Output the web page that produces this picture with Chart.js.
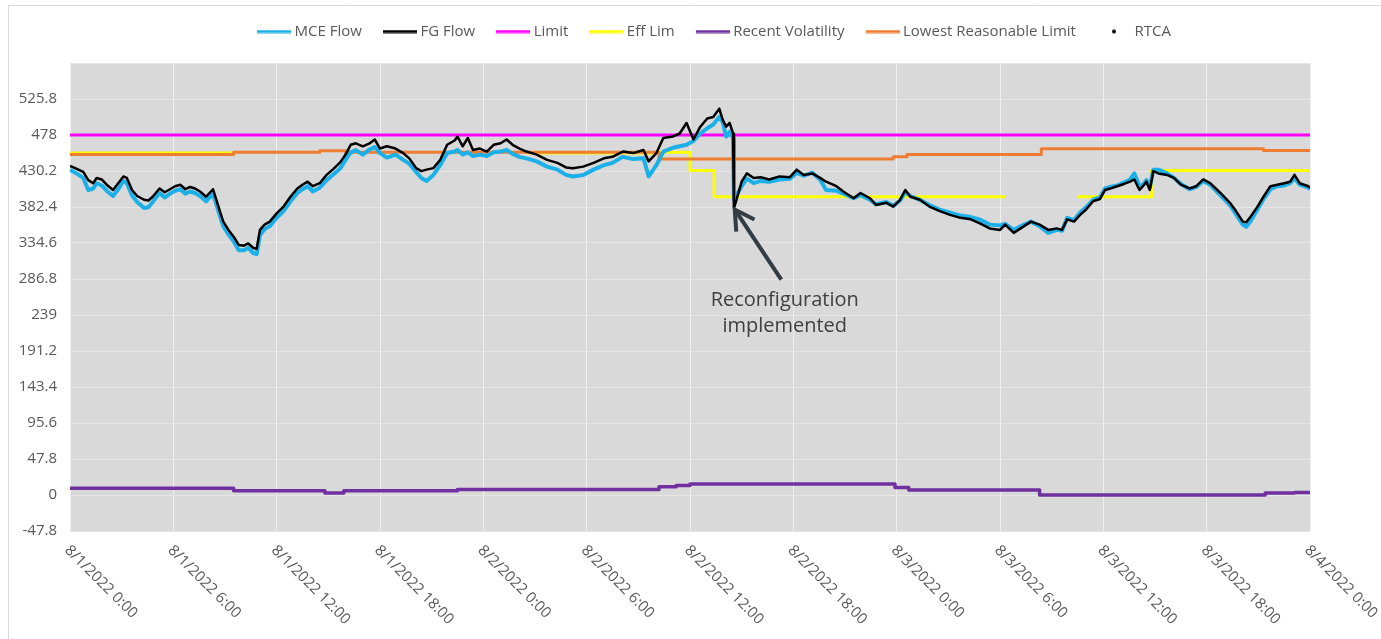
<!DOCTYPE html>
<html>
<head>
<meta charset="utf-8">
<script src="https://cdn.jsdelivr.net/npm/chart.js@4.4.1/dist/chart.umd.min.js"></script>
<style>
  html, body { margin: 0; padding: 0; background: #ffffff; }
  #wrap { width: 1381px; height: 639px; position: relative; }
  canvas { display: block; }
</style>
</head>
<body>
<div id="wrap"><canvas id="chart" width="1381" height="639"></canvas></div>
<script>
// ---------------- DATA ----------------
const xTickLabels = [
  "8/1/2022 0:00", "8/1/2022 6:00", "8/1/2022 12:00", "8/1/2022 18:00",
  "8/2/2022 0:00", "8/2/2022 6:00", "8/2/2022 12:00", "8/2/2022 18:00",
  "8/3/2022 0:00", "8/3/2022 6:00", "8/3/2022 12:00", "8/3/2022 18:00",
  "8/4/2022 0:00"
];

// hours since 8/1/2022 0:00
const flowHours = [
  0, 0.3, 0.77, 1.06, 1.35, 1.55, 1.84, 2.13, 2.5, 2.8,
  3.1, 3.3, 3.6, 3.9, 4.3, 4.55, 4.8, 5.2, 5.5, 5.8,
  6.1, 6.4, 6.7, 6.97, 7.26, 7.55, 7.9, 8.3, 8.5, 8.7,
  8.9, 9.2, 9.5, 9.8, 10.1, 10.35, 10.65, 10.84, 11.03, 11.3,
  11.6, 12, 12.4, 12.8, 13.2, 13.5, 13.8, 14.1, 14.5, 14.9,
  15.3, 15.7, 16, 16.3, 16.6, 17, 17.4, 17.7, 18, 18.4,
  18.9, 19.35, 19.7, 20.1, 20.4, 20.7, 21.1, 21.5, 21.9, 22.35,
  22.5, 22.8, 23.1, 23.4, 23.8, 24.2, 24.6, 25, 25.35, 25.7,
  26.1, 26.5, 27.1, 27.7, 28.3, 28.8, 29.2, 29.8, 30.4, 31,
  31.5, 32.1, 32.7, 33.3, 33.6, 34.05, 34.45, 35, 35.4, 35.8,
  36.2, 36.6, 37, 37.35, 37.7, 37.9, 38.1, 38.3, 38.5, 38.55,
  38.7, 39, 39.3, 39.7, 40.1, 40.6, 41.2, 41.8, 42.2, 42.6,
  43.1, 43.55, 43.9, 44.5, 44.9, 45.5, 45.9, 46.45, 46.8, 47.4,
  47.8, 48.2, 48.5, 48.8, 49.35, 49.9, 50.5, 51.1, 51.7, 52.3,
  52.8, 53.4, 54, 54.3, 54.8, 55.4, 55.8, 56.3, 56.8, 57.3,
  57.6, 57.9, 58.3, 58.65, 59, 59.4, 59.8, 60.1, 60.4, 60.8,
  61.2, 61.55, 61.8, 62.1, 62.3, 62.5, 62.7, 62.9, 63.2, 63.7,
  64.1, 64.5, 65, 65.4, 65.8, 66.2, 66.8, 67.35, 67.7, 68.1,
  68.3, 68.5, 68.9, 69.3, 69.7, 70.1, 70.5, 70.85, 71.1, 71.4,
  71.9, 72
];

const fgFlow = [
  437, 434, 429, 418, 414, 421, 419, 412, 405, 414,
  423, 421, 405, 397, 392, 391, 396, 407, 402, 406,
  410, 412, 406, 409, 407, 403, 396, 406, 392, 377,
  363, 352, 343, 332, 331, 334, 328, 327, 352, 359,
  363, 374, 383, 396, 407, 412, 416, 410, 414, 425,
  433, 442, 452, 465, 467, 463, 467, 472, 460, 463,
  460, 454, 447, 434, 430, 432, 434, 445, 465, 471,
  476, 463, 474, 458, 460, 456, 465, 467, 472, 465,
  460, 456, 452, 445, 441, 435, 434, 436, 441, 447,
  449, 456, 454, 458, 443, 454, 474, 476, 480, 494,
  472, 489, 500, 502, 513, 498, 489, 494, 480, 381,
  392, 416, 427, 421, 422, 419, 423, 422, 432, 425,
  427, 421, 416, 410, 403, 394, 401, 394, 385, 388,
  383, 392, 405, 396, 392, 383, 377, 372, 368, 366,
  361, 354, 352, 359, 348, 357, 363, 359, 352, 354,
  352, 366, 363, 372, 379, 390, 393, 405, 407, 410,
  413, 416, 419, 405, 410, 416, 405, 430, 427, 425,
  421, 412, 407, 410, 419, 414, 401, 388, 377, 363,
  362, 368, 381, 396, 410, 412, 414, 416, 425, 414,
  410, 408
];

const mceFlow = [
  432, 428, 421, 405, 407, 414, 411, 404, 397, 406,
  417, 414, 398, 389, 381, 382, 389, 401, 395, 400,
  404, 406, 400, 403, 401, 397, 390, 400, 386, 371,
  357, 346, 337, 325, 325, 328, 321, 320, 345, 353,
  357, 368, 377, 390, 401, 406, 410, 403, 408, 418,
  426, 434, 445, 455, 458, 452, 459, 462, 454, 448,
  452, 445, 440, 429, 421, 417, 425, 438, 454, 456,
  458, 452, 455, 450, 452, 450, 455, 456, 458, 453,
  449, 447, 443, 436, 432, 425, 423, 425, 432, 438,
  441, 449, 446, 447, 423, 438, 456, 461, 463, 465,
  470, 480, 487, 492, 502, 495, 476, 482, 474, 392,
  398, 410, 420, 414, 417, 416, 419, 420, 428, 424,
  428, 419, 405, 404, 400, 394, 398, 392, 386, 389,
  384, 391, 402, 397, 392, 385, 379, 375, 371, 369,
  366, 359, 358, 360, 352, 359, 363, 357, 348, 352,
  351, 368, 365, 375, 382, 392, 395, 407, 409, 411,
  415, 419, 427, 410, 412, 418, 408, 432, 432, 427,
  421, 413, 406, 409, 417, 412, 398, 385, 373, 359,
  356, 362, 377, 393, 406, 410, 411, 414, 421, 412,
  408, 406
];

// step series: value holds from its hour until the next hour
const limitHours  = [0, 72];
const limitValues = [478, 478];

const effLimHours  = [0, 9.5, 9.5, 26.5, 34.2, 36, 37.4, 54.3, 54.3, 58.5, 62.8, 72];
const effLimValues = [454, 454, null, 454, 455, 431, 396, 396, null, 396, 431, 431];

const lowestHours  = [0, 9.5, 14.5, 16, 34.2, 47.8, 48.6, 56.4, 69.3, 72];
const lowestValues = [452, 455, 457, 455, 446, 449, 452, 459.6, 457.4, 457.4];

const volHours  = [0, 9.5, 14.8, 15.9, 22.5, 34.2, 35.2, 36, 47.9, 48.7, 56.3, 69.4, 71.1, 72];
const volValues = [8.8, 5.6, 2.5, 5.6, 7.4, 11, 12.7, 14.5, 10, 6.7, 0, 2.5, 3.4, 3.4];

const seriesNames = ["MCE Flow", "FG Flow", "Limit", "Eff Lim", "Recent Volatility", "Lowest Reasonable Limit", "RTCA"];

const yMin = -47.8, yMax = 573.6, yStep = 47.8;
const xMin = 0, xMax = 72, xStep = 6;

const annotationText = ["Reconfiguration", "implemented"];

// ---------------- BUILD ----------------
const toPoints = (xs, ys) => xs.map((x, i) => ({ x: x, y: ys[i] }));

const FONT = "'Open Sans', 'Noto Sans', 'DejaVu Sans', sans-serif";
const TEXT_COLOR = '#595959';
const colors = ['#1cb0e8', '#000000', '#ff00ff', '#ffff00', '#7030a0', '#ed7d31', '#000000'];

function lineSwatch(color) {
  const c = document.createElement('canvas');
  c.width = 34; c.height = 4;
  const g = c.getContext('2d');
  g.fillStyle = color;
  g.fillRect(0, 0.5, 34, 3);
  return c;
}
function dotSwatch(color) {
  const c = document.createElement('canvas');
  c.width = 8; c.height = 8;
  const g = c.getContext('2d');
  g.fillStyle = color;
  g.beginPath(); g.arc(4, 4, 2, 0, Math.PI * 2); g.fill();
  return c;
}
const swatches = colors.map((c, i) => (i === 6 ? dotSwatch(c) : lineSwatch(c)));

const LEGEND_HEIGHT = 63, LEGEND_DX = 61, LEGEND_DY = -1;

const legendTweak = {
  id: 'legendTweak',
  afterInit(chart) {
    const lg = chart.legend;
    if (!lg || lg._tweaked) return;
    const origFit = lg.fit.bind(lg);
    lg.fit = function () { origFit(); this.height = LEGEND_HEIGHT; };
    const origDraw = lg.draw.bind(lg);
    lg.draw = function () {
      const ctx = this.ctx;
      ctx.save();
      ctx.translate(LEGEND_DX, LEGEND_DY);
      origDraw();
      ctx.restore();
    };
    lg._tweaked = true;
  }
};

const decorPlugin = {
  id: 'decor',
  beforeDraw(chart) {
    const { ctx, chartArea } = chart;
    ctx.save();
    ctx.fillStyle = '#ffffff';
    ctx.fillRect(0, 0, chart.width, chart.height);
    ctx.strokeStyle = '#d9d9d9';
    ctx.lineWidth = 1;
    ctx.beginPath();
    ctx.moveTo(8.5, chart.height);
    ctx.lineTo(8.5, 5.5);
    ctx.lineTo(chart.width, 5.5);
    ctx.stroke();
    ctx.fillStyle = '#d9d9d9';
    ctx.fillRect(chartArea.left, chartArea.top, chartArea.right - chartArea.left, chartArea.bottom - chartArea.top);
    ctx.restore();
  },
  afterDraw(chart) {
    const { ctx, chartArea } = chart;
    const xs = chart.scales.x, ys = chart.scales.y;
    ctx.save();
    ctx.fillStyle = TEXT_COLOR;
    ctx.font = "15px " + FONT;
    ctx.textAlign = 'left';
    ctx.textBaseline = 'middle';
    xTickLabels.forEach((lab, i) => {
      const px = xs.getPixelForValue(xMin + i * xStep);
      ctx.save();
      ctx.translate(px - 3, chartArea.bottom + 17);
      ctx.rotate(Math.PI / 4);
      ctx.fillText(lab, 0, 0);
      ctx.restore();
    });

    // annotation arrow
    const tipX = xs.getPixelForValue(38.6), tipY = ys.getPixelForValue(379);
    const tailX = xs.getPixelForValue(41.3), tailY = ys.getPixelForValue(286);
    const ang = Math.atan2(tipY - tailY, tipX - tailX);
    ctx.strokeStyle = '#323c42';
    ctx.lineWidth = 4;
    ctx.lineCap = 'butt';
    ctx.lineJoin = 'miter';
    ctx.beginPath();
    ctx.moveTo(tailX, tailY);
    ctx.lineTo(tipX - Math.cos(ang) * 2, tipY - Math.sin(ang) * 2);
    ctx.stroke();
    const headLen = 22, spread = 0.52;
    ctx.beginPath();
    ctx.moveTo(tipX - headLen * Math.cos(ang - spread), tipY - headLen * Math.sin(ang - spread));
    ctx.lineTo(tipX, tipY);
    ctx.lineTo(tipX - headLen * Math.cos(ang + spread), tipY - headLen * Math.sin(ang + spread));
    ctx.stroke();

    ctx.fillStyle = '#404040';
    ctx.font = "20px " + FONT;
    ctx.textAlign = 'center';
    ctx.textBaseline = 'middle';
    const tx = xs.getPixelForValue(41.5);
    ctx.fillText(annotationText[0], tx, ys.getPixelForValue(259));
    ctx.fillText(annotationText[1], tx, ys.getPixelForValue(223.5));
    ctx.restore();
  }
};

const common = { pointRadius: 0, pointHoverRadius: 0, tension: 0, fill: false, spanGaps: false, borderJoinStyle: 'round', borderCapStyle: 'butt' };

const datasets = [
  Object.assign({ label: seriesNames[0], data: toPoints(flowHours, mceFlow), borderColor: colors[0], backgroundColor: colors[0], borderWidth: 4, order: 1 }, common),
  Object.assign({ label: seriesNames[1], data: toPoints(flowHours, fgFlow), borderColor: colors[1], backgroundColor: colors[1], borderWidth: 2.5, order: 0 }, common),
  Object.assign({ label: seriesNames[2], data: toPoints(limitHours, limitValues), borderColor: colors[2], backgroundColor: colors[2], borderWidth: 3, stepped: 'before', order: 4 }, common),
  Object.assign({ label: seriesNames[3], data: toPoints(effLimHours, effLimValues), borderColor: colors[3], backgroundColor: colors[3], borderWidth: 3, stepped: 'before', order: 3 }, common),
  Object.assign({ label: seriesNames[4], data: toPoints(volHours, volValues), borderColor: colors[4], backgroundColor: colors[4], borderWidth: 3.5, stepped: 'before', order: 5 }, common),
  Object.assign({ label: seriesNames[5], data: toPoints(lowestHours, lowestValues), borderColor: colors[5], backgroundColor: colors[5], borderWidth: 3, stepped: 'before', order: 2 }, common),
  Object.assign({ label: seriesNames[6], data: [], borderColor: colors[6], backgroundColor: colors[6], borderWidth: 0, order: 6, showLine: false }, common)
];

new Chart(document.getElementById('chart'), {
  type: 'line',
  data: { datasets: datasets },
  plugins: [legendTweak, decorPlugin],
  options: {
    responsive: false,
    animation: false,
    devicePixelRatio: 1,
    layout: { padding: { left: 0, right: 71, top: 0, bottom: 0 } },
    plugins: {
      tooltip: { enabled: false },
      legend: {
        display: true,
        position: 'top',
        align: 'center',
        labels: {
          usePointStyle: true,
          pointStyleWidth: 26,
          padding: 25,
          color: TEXT_COLOR,
          font: { family: FONT, size: 15 },
          generateLabels(chart) {
            return chart.data.datasets.map((ds, i) => ({
              text: ds.label,
              fillStyle: ds.borderColor,
              strokeStyle: ds.borderColor,
              lineWidth: 0,
              pointStyle: swatches[i],
              fontColor: TEXT_COLOR,
              hidden: false,
              datasetIndex: i
            }));
          }
        }
      }
    },
    scales: {
      x: {
        type: 'linear',
        min: xMin, max: xMax,
        ticks: { display: false, stepSize: xStep },
        grid: { color: '#f0f0f0', lineWidth: 1, drawTicks: false },
        border: { display: false },
        afterFit(scale) { scale.height = 108; }
      },
      y: {
        type: 'linear',
        min: yMin, max: yMax,
        ticks: {
          stepSize: yStep,
          padding: 13,
          color: TEXT_COLOR,
          font: { family: FONT, size: 15 },
          callback: (v) => (Math.abs(v - yMax) < 1e-6 ? '' : String(Math.round(v * 10) / 10))
        },
        grid: { color: '#e6e6e6', lineWidth: 1, drawTicks: false },
        border: { display: false },
        afterFit(scale) { scale.width = 70; }
      }
    }
  }
});
</script>
</body>
</html>
